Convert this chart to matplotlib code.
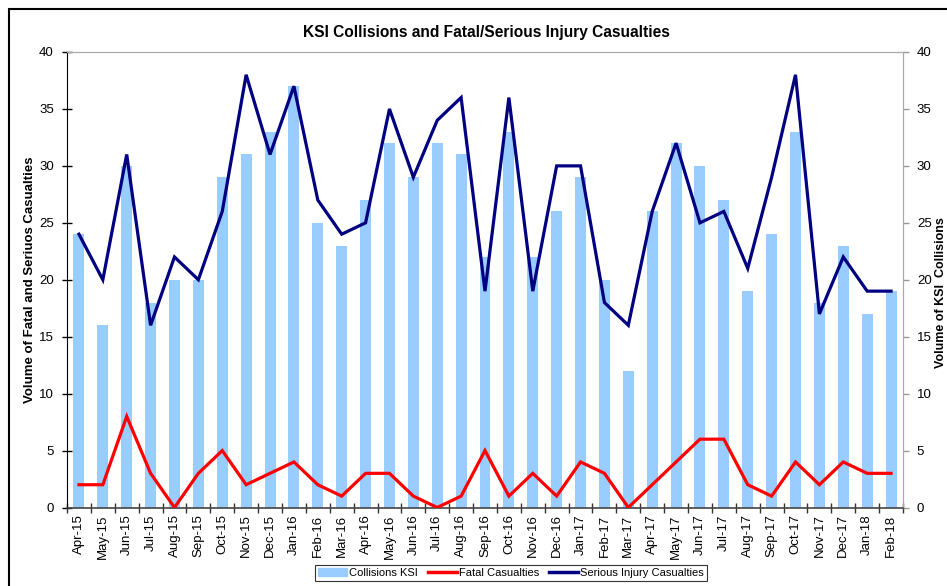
import matplotlib
matplotlib.use("Agg")
import matplotlib.pyplot as plt
from matplotlib.patches import Rectangle
from matplotlib.lines import Line2D
import numpy as np

plt.rcParams['font.family'] = ['Liberation Sans', 'DejaVu Sans']

months = ["Apr-15", "May-15", "Jun-15", "Jul-15", "Aug-15", "Sep-15", "Oct-15",
          "Nov-15", "Dec-15", "Jan-16", "Feb-16", "Mar-16", "Apr-16", "May-16",
          "Jun-16", "Jul-16", "Aug-16", "Sep-16", "Oct-16", "Nov-16", "Dec-16",
          "Jan-17", "Feb-17", "Mar-17", "Apr-17", "May-17", "Jun-17", "Jul-17",
          "Aug-17", "Sep-17", "Oct-17", "Nov-17", "Dec-17", "Jan-18", "Feb-18"]

# collisions KSI (bars, right axis)
collisions = [24, 16, 30, 18, 20, 20, 29, 31, 33, 37, 25, 23, 27, 32, 29, 32, 31,
              22, 33, 22, 26, 29, 20, 12, 26, 32, 30, 27, 19, 24, 33, 18, 23, 17, 19]
# fatal casualties
fatal = [2, 2, 8, 3, 0, 3, 5, 2, 3, 4, 2, 1, 3, 3, 1, 0, 1, 5, 1, 3, 1, 4, 3, 0,
         2, 4, 6, 6, 2, 1, 4, 2, 4, 3, 3]
# serious injury casualties
serious = [24, 20, 31, 16, 22, 20, 26, 38, 31, 37, 27, 24, 25, 35, 29, 34, 36, 19,
           36, 19, 30, 30, 18, 16, 26, 32, 25, 26, 21, 29, 38, 17, 22, 19, 19]

bar_col = "#99CCFF"
fatal_col = "#FF0000"
serious_col = "#000080"

fig = plt.figure(figsize=(9.47, 5.86), dpi=100)
ax = fig.add_axes([67/947, 1 - 507.5/586, (903 - 67)/947, (507.5 - 52)/586])
ax2 = ax.twinx()

x = np.arange(len(months))

# bars on secondary axis, drawn behind the lines
ax2.bar(x, collisions, width=0.46, color=bar_col, zorder=1)
ax.set_zorder(ax2.get_zorder() + 1)
ax.patch.set_visible(False)

ax.plot(x, fatal, color=fatal_col, lw=2.3, solid_joinstyle='miter', zorder=3)
ax.plot(x, serious, color=serious_col, lw=2.3, solid_joinstyle='miter', zorder=3)

for a in (ax, ax2):
    a.set_ylim(0, 40)
    a.set_xlim(-0.5, len(months) - 0.5)
    a.set_yticks(np.arange(0, 41, 5))

ax.set_xticks(x)
ax.set_xticklabels(months, rotation=90, fontsize=9.5)
ax.set_xticks(np.arange(-0.5, len(months), 1), minor=True)
ax.tick_params(axis='x', which='major', length=0, pad=5)
ax.tick_params(axis='x', which='minor', direction='inout', length=7, width=1, color='#333333')
ax.tick_params(axis='y', direction='inout', length=7, width=1, labelsize=9.5, pad=6)
ax2.tick_params(axis='y', direction='out', length=4, width=1, color='#999999', labelsize=9.5, pad=6)

ax.spines['left'].set_color('black')
ax.spines['bottom'].set_color('#444444')
ax.spines['bottom'].set_linewidth(1.2)
for a in (ax, ax2):
    a.spines['top'].set_color('#AAAAAA')
    a.spines['right'].set_color('#AAAAAA')
ax2.spines['left'].set_visible(False)
ax2.spines['bottom'].set_visible(False)

fig.text(486/947, 1 - 33/586, "KSI Collisions and Fatal/Serious Injury Casualties",
         ha='center', va='center', fontsize=11.2, fontweight='bold')
fig.text(24/947, 1 - 280/586, "Volume of Fatal and Seriuos Casualties", rotation=90,
         ha='left', va='center', fontsize=9.5, fontweight='bold')
fig.text(935/947, 1 - 293/586, "Volume of KSI  Collisions", rotation=90,
         ha='left', va='center', fontsize=9, fontweight='bold')

handles = [Rectangle((0, 0), 1, 1, color=bar_col),
           Line2D([], [], color=fatal_col, lw=2.5),
           Line2D([], [], color=serious_col, lw=2.5)]
leg = fig.legend(handles, ["Collisions KSI", "Fatal Casualties", "Serious Injury Casualties"],
                 loc='center', bbox_to_anchor=(511/947, 1 - 573/586), ncol=3,
                 frameon=True, fancybox=False, edgecolor='black',
                 handlelength=2.6, handletextpad=0.2, columnspacing=0.9,
                 borderpad=0.3, prop={'size': 8})
leg.get_frame().set_linewidth(0.8)

# outer chart frame
fig.patches.append(Rectangle((9/947, -0.1), 1.2, 1 - 9/586 + 0.1, transform=fig.transFigure,
                             fill=False, edgecolor='black', lw=1.5))

fig.savefig("out.png", dpi=100)
